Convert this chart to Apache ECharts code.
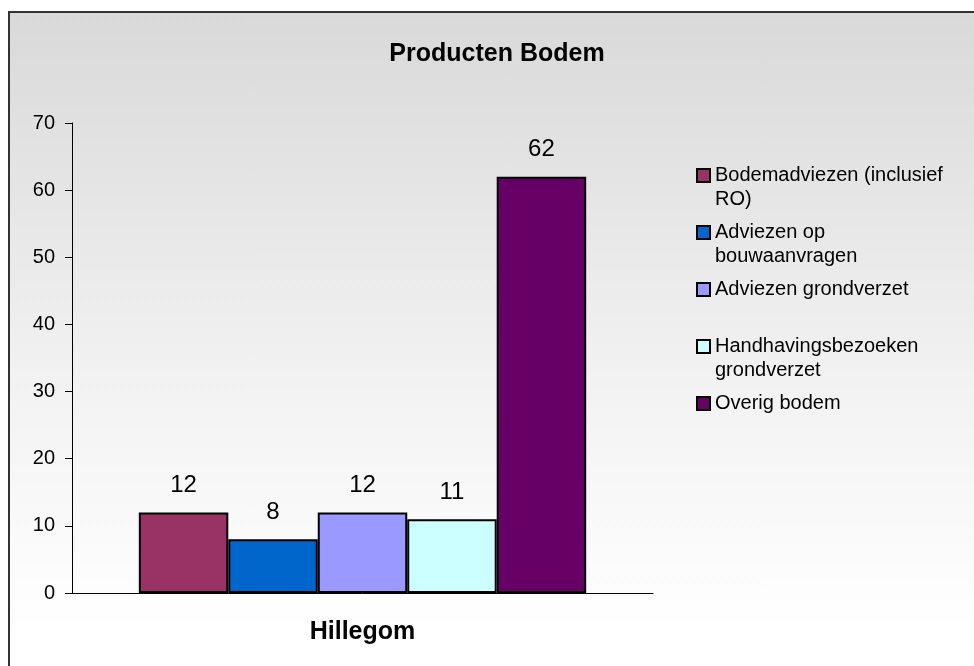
<!DOCTYPE html>
<html>
<head>
<meta charset="utf-8">
<title>Producten Bodem</title>
<script src="https://cdn.jsdelivr.net/npm/echarts@6/dist/echarts.min.js"></script>
<style>
  html, body { margin: 0; padding: 0; width: 974px; height: 666px; overflow: hidden; background: #fff; }
  /* chart frame with grey-to-white fill */
  #frame {
    position: absolute; left: 8px; top: 11px; width: 980px; height: 670px;
    border-left: 2px solid #333; border-top: 2px solid #333;
    background: linear-gradient(to bottom, #d9d9d9 0%, #f2f2f2 55%, #ffffff 92%);
  }
  #main { position: absolute; left: 0; top: 0; width: 974px; height: 666px; }
</style>
</head>
<body>
<div id="frame"></div>
<div id="main"></div>
<script>
// data
const categories = ['Hillegom'];
const seriesNames = [
  'Bodemadviezen (inclusief\nRO)',
  'Adviezen op\nbouwaanvragen',
  'Adviezen grondverzet',
  'Handhavingsbezoeken\ngrondverzet',
  'Overig bodem'
];
const seriesValues = [[12], [8], [12], [11], [62]];
const seriesColors = ['#993366', '#0066CC', '#9999FF', '#CCFFFF', '#660066'];
const yTicks = [0, 10, 20, 30, 40, 50, 60, 70];

const font = "'Liberation Sans', Arial, sans-serif";
const myChart = echarts.init(document.getElementById('main'));

// pad every legend label to three lines so the first text line sits next to the icon
// and all entries get the same height
const legendLabel = function (name) {
  const lines = name.split('\n').length;
  return ' \n' + name + (lines > 1 ? '' : '\n ');
};

myChart.setOption({
  animation: false,
  backgroundColor: 'transparent',
  textStyle: { fontFamily: font, color: '#000' },
  title: {
    text: 'Producten Bodem',
    left: 492,
    top: 37,
    textAlign: 'center',
    textStyle: { fontFamily: font, fontSize: 25, fontWeight: 'bold', color: '#000' }
  },
  legend: {
    orient: 'vertical',
    left: 696,
    top: 139.5,
    padding: 0,
    itemGap: -15,
    itemWidth: 13,
    itemHeight: 13,
    icon: 'rect',
    data: seriesNames,
    formatter: legendLabel,
    textStyle: { fontFamily: font, fontSize: 20, lineHeight: 24, color: '#000' }
  },
  grid: { left: 72, right: 321, top: 123, bottom: 73 },
  xAxis: {
    type: 'category',
    data: categories,
    axisLine: { lineStyle: { color: '#000', width: 1 } },
    axisTick: { length: 8, lineStyle: { color: '#000' } },
    axisLabel: { margin: 27, fontFamily: font, fontSize: 25, fontWeight: 'bold', color: '#000' }
  },
  yAxis: {
    type: 'value',
    min: yTicks[0],
    max: yTicks[yTicks.length - 1],
    interval: 10,
    splitLine: { show: false },
    axisLine: { show: true, lineStyle: { color: '#000', width: 1 } },
    axisTick: { show: true, length: 7, lineStyle: { color: '#000' } },
    axisLabel: { margin: 17, fontFamily: font, fontSize: 20, color: '#000' }
  },
  series: seriesNames.map(function (name, i) {
    return {
      name: name,
      type: 'bar',
      data: seriesValues[i],
      barGap: 0,
      barCategoryGap: '23%',
      itemStyle: { color: seriesColors[i], borderColor: '#000', borderWidth: 2 },
      label: {
        show: true,
        position: 'top',
        distance: 15,
        fontFamily: font,
        fontSize: 24,
        color: '#000'
      }
    };
  })
});

window.onresize = function () {
  myChart.resize();
};
</script>
</body>
</html>
